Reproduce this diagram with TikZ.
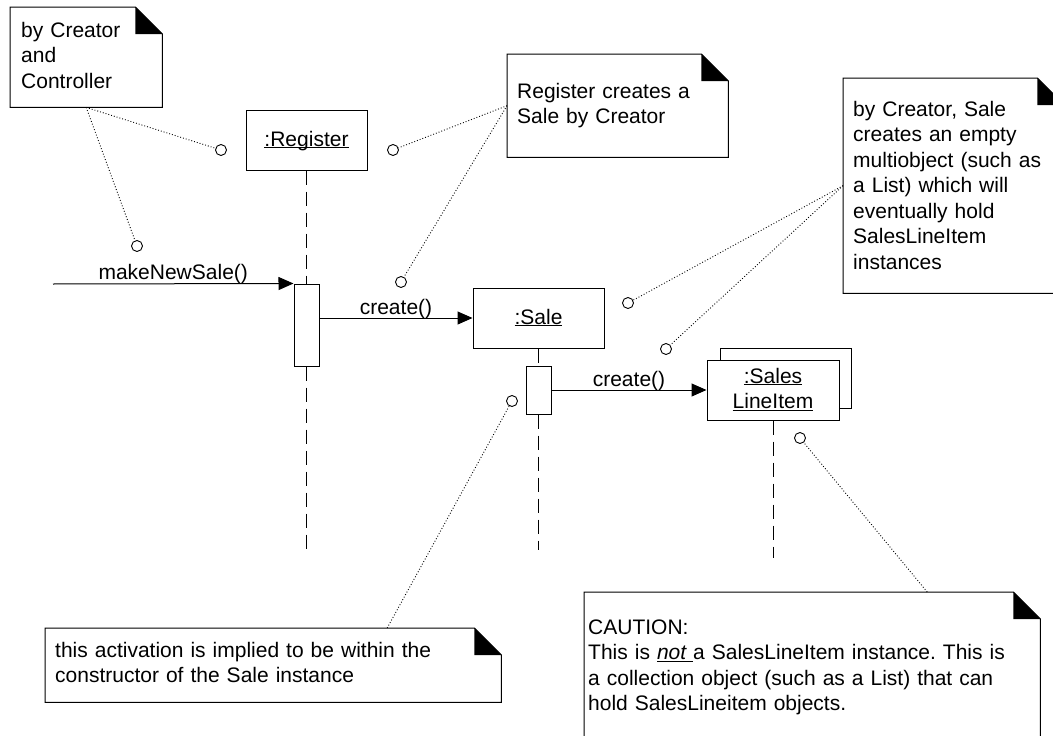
\documentclass[tikz,border=0pt]{standalone}
\usepackage{fontspec}
\setmainfont{Liberation Sans}
\usetikzlibrary{arrows.meta}

\newcommand{\uname}[1]{\underline{\smash{#1}}}
\frenchspacing

\tikzset{
    notebox/.style={anchor=north west, align=left, inner ysep=0pt, inner xsep=10pt},
    obj/.style={draw, fill=white, line width=1pt, minimum height=60pt, text height=15pt, text depth=3pt},
    act/.style={draw, fill=white, line width=1pt, minimum width=25pt, inner sep=0pt},
    knob/.style={circle, draw, fill=white, line width=0.9pt, minimum size=11pt, inner sep=0pt},
    notelink/.style={line width=0.9pt, dash pattern=on 0.9pt off 2pt},
    life/.style={line width=1pt, dash pattern=on 14pt off 7pt},
    msg/.style={line width=1pt, -{Triangle[length=15pt, width=13pt]}},
    msglabel/.style={above, inner sep=0pt, text depth=0pt, yshift=3.5pt},
}

\begin{document}
\begin{tikzpicture}[x=1pt, y=-1pt, font=\fontsize{21}{25.5}\selectfont]

\useasboundingbox (0,0) rectangle (1053,736);

\node[notebox, inner xsep=11pt, text width=130pt, text height=30pt, text depth=70pt] (n1) at (10,7) {by Creator\\and\\Controller};
\node[notebox, text width=201pt, text height=44pt, text depth=59pt] (n2) at (507,54) {Register creates a\\Sale by Creator};
\node[notebox, text width=201pt, text height=38pt, text depth=177pt] (n3) at (843,78) {by Creator, Sale\\creates an empty\\multiobject (such as\\a List) which will\\eventually hold\\SalesLineItem\\instances};
\node[notebox, text width=436pt, text height=29pt, text depth=45pt] (n4) at (45,628) {this activation is implied to be within the\\constructor of the Sale instance};
\node[notebox, inner xsep=4pt, text width=448pt, text height=42pt, text depth=108pt] (n5) at (584,592) {CAUTION:\\This is \uname{\itshape not }a SalesLineItem instance. This is\\a collection object (such as a List) that can\\hold SalesLineitem objects.};

\foreach \n in {n1,n2,n3,n4,n5} {
    \draw[line width=1pt] (\n.north west) -- ([xshift=-27pt]\n.north east) -- ([yshift=-27pt]\n.north east) -- (\n.south east) -- (\n.south west) -- cycle;
    \fill ([xshift=-27pt]\n.north east) -- ([xshift=-27pt, yshift=-27pt]\n.north east) -- ([yshift=-27pt]\n.north east) -- cycle;
}

\node[obj, minimum width=121pt] (reg) at (306.5,140) {\uname{:Register}};
\node[obj, minimum width=131pt] (sale) at (538.5,318) {\uname{:Sale}};
\node[obj, minimum width=131pt] (sliback) at (785.5,378) {};
\node[obj, minimum width=132pt, align=center, text height=40pt, text depth=3pt] (sli) at (773,390) {\uname{:Sales}\\\uname{LineItem}};

\node[act, minimum height=82pt] (regact) at (306.5,325) {};
\node[act, minimum height=48pt] (saleact) at (538.5,390) {};

\coordinate (regend) at (306.5,550);
\coordinate (saleend) at (538.5,550);
\coordinate (sliend) at (773,558);
\coordinate (caller) at (53,284);

\begin{scope}[life]
    \draw (reg) -- (regact);
    \draw (regact) -- (regend);
    \draw (sale) -- (saleact);
    \draw (saleact) -- (saleend);
    \draw (sli) -- (sliend);
\end{scope}

\draw[msg] (caller) -- (regact.north west) node[midway, msglabel] {makeNewSale()};
\draw[msg] (regact.east |- sale.west) -- (sale.west) node[midway, msglabel] {create()};
\draw[msg] (saleact.east) -- (sli.west) node[midway, msglabel] {create()};

\coordinate (n4top) at ([xshift=114pt]n4.north);
\coordinate (n5top) at ([xshift=115pt]n5.north);

\begin{scope}[every node/.style={knob}]
    \node (ca) at (221,150) {};
    \node (cb) at (137,246) {};
    \node (cc) at (393,150) {};
    \node (cd) at (401,282) {};
    \node (ce) at (628,303) {};
    \node (cf) at (666,349) {};
    \node (cg) at (512,401) {};
    \node (ch) at (800,438) {};
\end{scope}

\begin{scope}[notelink]
    \draw (n1.south) -- (ca);
    \draw (n1.south) -- (cb);
    \draw (n2.west) -- (cc);
    \draw (n2.west) -- (cd);
    \draw (n3.west) -- (ce);
    \draw (n3.west) -- (cf);
    \draw (n4top) -- (cg);
    \draw (n5top) -- (ch);
\end{scope}

\end{tikzpicture}
\end{document}
